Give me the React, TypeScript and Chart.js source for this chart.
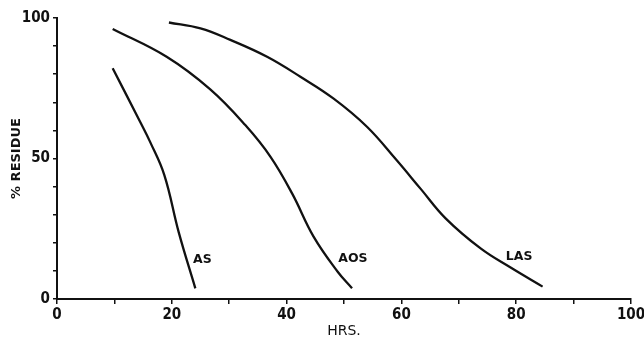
import React, { useEffect, useRef } from "react";
import { Chart, registerables } from "chart.js";

Chart.register(...registerables);

const asX = [9.7, 14.5, 16.2, 18.7, 21.2, 24.1];
const asY = [82.1, 63.0, 56.0, 44.1, 23.8, 3.8];

const aosX = [9.7, 19.1, 26.7, 32.8, 37.2, 41.0, 44.7, 48.9, 51.4];
const aosY = [96.1, 86.2, 74.6, 61.9, 50.6, 37.4, 22.2, 9.7, 3.8];

const lasX = [19.5, 25.0, 30.2, 36.6, 42.4, 48.2, 54.0, 59.0, 63.4, 67.7, 73.8, 79.1, 84.6];
const lasY = [98.4, 96.3, 92.2, 86.2, 79.1, 71.3, 61.3, 49.8, 39.1, 28.7, 18.0, 11.1, 4.4];

const seriesNames = ["AS", "AOS", "LAS"];
const labelX = [23.7, 49.0, 78.2];
const labelY = [13.9, 14.2, 15.1];

const xLabelTicks = [0, 20, 40, 60, 80, 100];
const yLabelTicks = [0, 50, 100];

const NARROW = "'Liberation Sans Narrow', 'DejaVu Sans Condensed', sans-serif";
const WIDE = "'DejaVu Sans', 'Liberation Sans', sans-serif";

const toPts = (xs: number[], ys: number[]) => xs.map((x, i) => ({ x, y: ys[i] }));

const curveLabels = {
  id: "curveLabels",
  afterDatasetsDraw(chart: any) {
    const { ctx, scales } = chart;
    ctx.save();
    ctx.fillStyle = "#111";
    ctx.font = `bold 12.5px ${WIDE}`;
    ctx.textAlign = "left";
    ctx.textBaseline = "middle";
    seriesNames.forEach((n, i) => {
      ctx.fillText(n, scales.x.getPixelForValue(labelX[i]), scales.y.getPixelForValue(labelY[i]));
    });
    ctx.restore();
  },
};

export default function App() {
  const ref = useRef<HTMLCanvasElement>(null);
  useEffect(() => {
    document.body.style.margin = "0";
    const mk = (xs: number[], ys: number[]) => ({
      data: toPts(xs, ys),
      borderColor: "#111",
      borderWidth: 2.3,
      pointRadius: 0,
      tension: 0.4,
      fill: false,
    });
    const chart = new Chart(ref.current!, {
      type: "line",
      data: {
        datasets: [mk(asX, asY), mk(aosX, aosY), mk(lasX, lasY)],
      },
      options: {
        animation: false,
        responsive: false,
        layout: { padding: { top: 18, right: 1, left: 0, bottom: 0 } },
        plugins: { legend: { display: false }, tooltip: { enabled: false } },
        scales: {
          x: {
            type: "linear",
            min: 0,
            max: 100,
            afterFit: (s: any) => { s.height = 45; s.paddingRight = 13; },
            border: { color: "#111", width: 2 },
            grid: { drawOnChartArea: false, color: "#111", tickLength: 5, lineWidth: 1.5 },
            ticks: {
              stepSize: 10,
              color: "#111",
              padding: 2,
              maxRotation: 0,
              autoSkip: false,
              font: { family: NARROW, size: 15, weight: "bold" },
              callback: (v: any) => (xLabelTicks.includes(v) ? String(v) : ""),
            },
            title: {
              display: true,
              text: "HRS.",
              color: "#111",
              padding: { top: 0 },
              font: { family: WIDE, size: 14 },
            },
          },
          y: {
            type: "linear",
            min: 0,
            max: 100,
            afterFit: (s: any) => { s.width = 57; },
            border: { color: "#111", width: 2 },
            grid: { drawOnChartArea: false, color: "#111", tickLength: 4, lineWidth: 1.5 },
            ticks: {
              stepSize: 10,
              color: "#111",
              padding: 3,
              autoSkip: false,
              font: { family: NARROW, size: 15, weight: "bold" },
              callback: (v: any) => (yLabelTicks.includes(v) ? String(v) : ""),
            },
            title: {
              display: true,
              text: "% RESIDUE",
              color: "#111",
              padding: { bottom: 0, top: 9 },
              font: { family: WIDE, size: 13, weight: "bold" },
            },
          },
        },
      },
      plugins: [curveLabels],
    });
    return () => chart.destroy();
  }, []);
  return (
    <div style={{ width: 644, height: 344, background: "#fff" }}>
      <canvas ref={ref} width={644} height={344} />
    </div>
  );
}
